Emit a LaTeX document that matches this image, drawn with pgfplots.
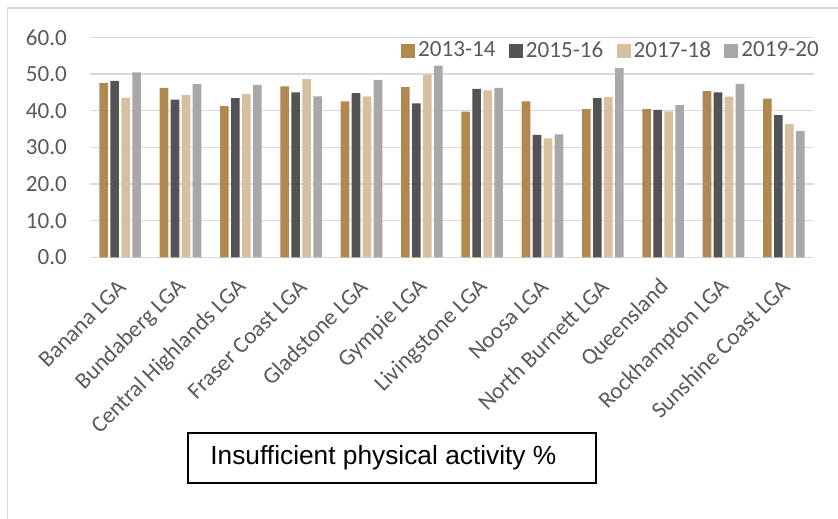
\documentclass[border=0pt]{standalone}
\usepackage{pgfplots}
\pgfplotsset{compat=1.18}
\usepackage{fontspec}
\setmainfont{Carlito}
\newfontfamily\arialf{Liberation Sans}
\definecolor{cA}{HTML}{B08850}
\definecolor{cB}{HTML}{535353}
\definecolor{cC}{HTML}{D8C09F}
\definecolor{cD}{HTML}{A8A8A9}
\definecolor{gridc}{HTML}{D9D9D9}
\definecolor{txt}{HTML}{595959}

\begin{document}
\begin{tikzpicture}[x=0.5bp,y=0.5bp]
\useasboundingbox (0,0) rectangle (838,519);
% chart area frame (right and bottom edges fall outside the picture)
\draw[gridc,line width=0.75bp] (7.5,511) rectangle (860,-30);

\begin{axis}[at={(45bp,130.85bp)},anchor=south west,scale only axis,
  width=362bp,height=110bp,
  ybar=1.2bp,bar width=4.3bp,
  xmin=-0.5,xmax=11.5,ymin=0,ymax=60,
  ytick={0,10,...,60},
  xtick={0,...,11},
  xticklabels={Banana LGA,Bundaberg LGA,Central Highlands LGA,Fraser Coast LGA,Gladstone LGA,Gympie LGA,Livingstone LGA,Noosa LGA,North Burnett LGA,Queensland,Rockhampton LGA,Sunshine Coast LGA},
  axis lines*=left,
  y axis line style={draw=none},
  x axis line style={gridc,line width=0.75bp},
  major tick length=0,
  ymajorgrids,
  major grid style={gridc,line width=0.75bp},
  font=\fontsize{11.6}{13.5}\selectfont,
  tick label style={txt},
  /pgf/number format/assume math mode=true,
  yticklabel style={/pgf/number format/fixed,/pgf/number format/fixed zerofill,/pgf/number format/precision=1,xshift=-8bp},
  xticklabel style={xshift=1bp,yshift=-13bp,rotate=45,anchor=east,inner sep=0pt},
  legend image code/.code={\fill[#1] (0bp,-3.5bp) rectangle (7bp,3.5bp);},
  legend columns=4,
  legend style={at={(0.421,0.939)},anchor=west,draw=none,fill=none,
    text=txt,font=\fontsize{11.6}{13.5}\selectfont,
    nodes={inner xsep=1.5bp},
    /tikz/every even column/.append style={column sep=5.2bp}},
]
\addplot[fill=cA,draw=none] coordinates {(0,47.6)(1,46.2)(2,41.2)(3,46.6)(4,42.5)(5,46.4)(6,39.7)(7,42.5)(8,40.4)(9,40.4)(10,45.3)(11,43.3)};
\addplot[fill=cB,draw=none] coordinates {(0,48.1)(1,43.0)(2,43.4)(3,45.0)(4,44.8)(5,42.0)(6,45.9)(7,33.4)(8,43.4)(9,40.2)(10,45.0)(11,38.8)};
\addplot[fill=cC,draw=none] coordinates {(0,43.5)(1,44.2)(2,44.5)(3,48.6)(4,43.9)(5,49.8)(6,45.5)(7,32.4)(8,43.7)(9,39.8)(10,43.8)(11,36.3)};
\addplot[fill=cD,draw=none] coordinates {(0,50.4)(1,47.2)(2,47.0)(3,43.9)(4,48.4)(5,52.3)(6,46.2)(7,33.5)(8,51.6)(9,41.5)(10,47.3)(11,34.5)};
\legend{2013-14,2015-16,2017-18,2019-20}
\end{axis}

\draw[black,line width=0.8bp] (188,86) rectangle (596,36);
\node[anchor=west,inner sep=0pt,font=\arialf\fontsize{13.2}{15}\selectfont] at (210,61) {Insufficient physical activity \%};
\end{tikzpicture}
\end{document}
